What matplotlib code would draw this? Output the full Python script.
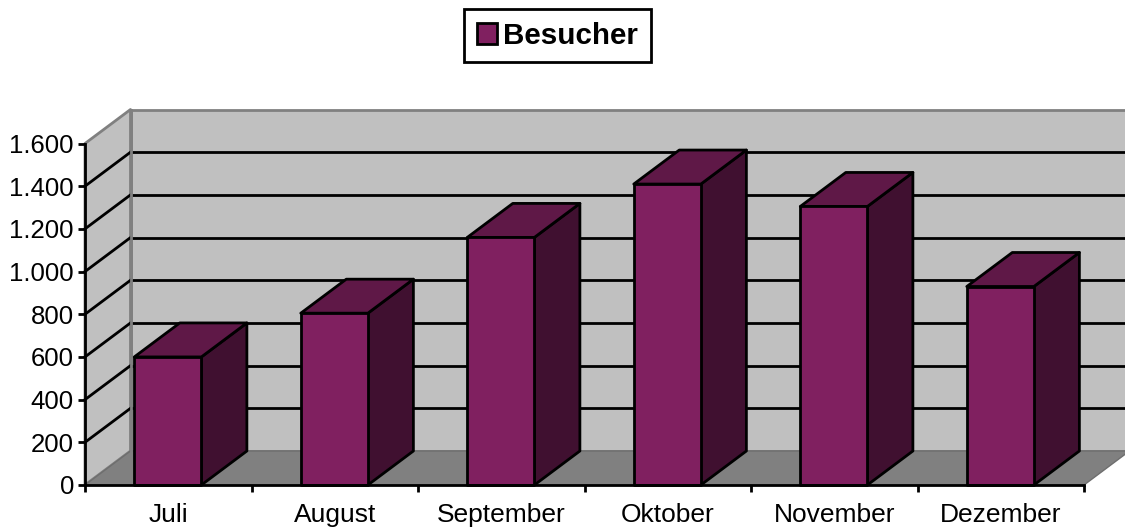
import matplotlib
matplotlib.use("Agg")
import matplotlib.pyplot as plt
from matplotlib.patches import Polygon, Patch
from matplotlib.ticker import FuncFormatter

plt.rcParams['font.family'] = ['Liberation Sans', 'DejaVu Sans']

months = ["Juli", "August", "September", "Oktober", "November", "Dezember"]
besucher = [600, 805, 1160, 1410, 1305, 930]
y_ticks = [0, 200, 400, 600, 800, 1000, 1200, 1400, 1600]
series_name = "Besucher"

W, H = 1125, 528
L, R, T, B = 85, 1084, 143.5, 485
DX = 45.5 / ((R - L) / 6)
DY = 34 / ((B - T) / 1600)
BAR_L, BAR_R = 0.296, 0.699
LW = 2.0

FRONT, TOP, SIDE = "#802060", "#5F1847", "#401030"
WALL, FLOOR, EDGE = "#C0C0C0", "#808080", "#808080"

fig = plt.figure(figsize=(W / 100, H / 100), dpi=100)
ax = fig.add_axes([L / W, 1 - B / H, (R - L) / W, (B - T) / H])
n = len(months)
ymax = y_ticks[-1]
ax.set_xlim(0, n)
ax.set_ylim(0, ymax)
for s in ("top", "right"):
    ax.spines[s].set_visible(False)
for s in ("left", "bottom"):
    ax.spines[s].set_linewidth(LW)
    ax.spines[s].set_zorder(20)


def poly(pts, fc, ec, lw=LW, z=1):
    ax.add_patch(Polygon(pts, closed=True, facecolor=fc, edgecolor=ec, linewidth=lw,
                         joinstyle="round", clip_on=False, zorder=z))


# walls and floor
poly([(DX, DY), (n + DX, DY), (n + DX, ymax + DY), (DX, ymax + DY)], WALL, EDGE, z=1)
poly([(0, 0), (DX, DY), (DX, ymax + DY), (0, ymax)], WALL, EDGE, z=1)
poly([(0, 0), (n, 0), (n + DX, DY), (DX, DY)], FLOOR, "#6E6E6E", lw=1.0, z=2)

# grid
for v in y_ticks[1:-1]:
    ax.plot([0, DX], [v, v + DY], color="black", lw=LW, clip_on=False, zorder=3)
    ax.plot([DX, n + DX], [v + DY, v + DY], color="black", lw=LW, clip_on=False, zorder=3)
ax.plot([DX, DX], [DY, ymax + DY], color=EDGE, lw=LW, clip_on=False, zorder=4)

# bars
for i, v in enumerate(besucher):
    x0, x1 = i + BAR_L, i + BAR_R
    poly([(x1, 0), (x1 + DX, DY), (x1 + DX, v + DY), (x1, v)], SIDE, "black", z=5 + i)
    poly([(x0, v), (x1, v), (x1 + DX, v + DY), (x0 + DX, v + DY)], TOP, "black", z=5 + i)
    poly([(x0, 0), (x1, 0), (x1, v), (x0, v)], FRONT, "black", z=5 + i)

# axes ticks and labels
ax.set_yticks(y_ticks)
ax.yaxis.set_major_formatter(FuncFormatter(lambda v, _: f"{int(v):,}".replace(",", ".")))
ax.set_xticks(range(n + 1))
ax.set_xticklabels([""] * (n + 1))
ax.set_xticks([i + 0.5 for i in range(n)], minor=True)
ax.set_xticklabels(months, minor=True)
ax.tick_params(axis="y", length=5, width=LW, labelsize=18.5, pad=3, direction="out")
ax.tick_params(axis="x", which="major", length=5, width=LW, direction="out")
ax.tick_params(axis="x", which="minor", length=0, labelsize=19, pad=13)
for t in ax.get_xticklines(minor=False) + ax.get_yticklines():
    t.set_zorder(20)

# legend
handle = Patch(facecolor=FRONT, edgecolor="black", linewidth=LW, label=series_name)
leg = fig.legend(handles=[handle], loc="center", bbox_to_anchor=(557.5 / W, 1 - 35.5 / H),
                 prop={"size": 21.3, "weight": "bold"}, frameon=True, fancybox=False,
                 edgecolor="black", facecolor="white", framealpha=1,
                 handlelength=0.7, handleheight=0.7, handletextpad=0.2,
                 borderpad=0.42, borderaxespad=0)
leg.get_frame().set_linewidth(LW)

fig.savefig("out.png", dpi=100, facecolor="white")
